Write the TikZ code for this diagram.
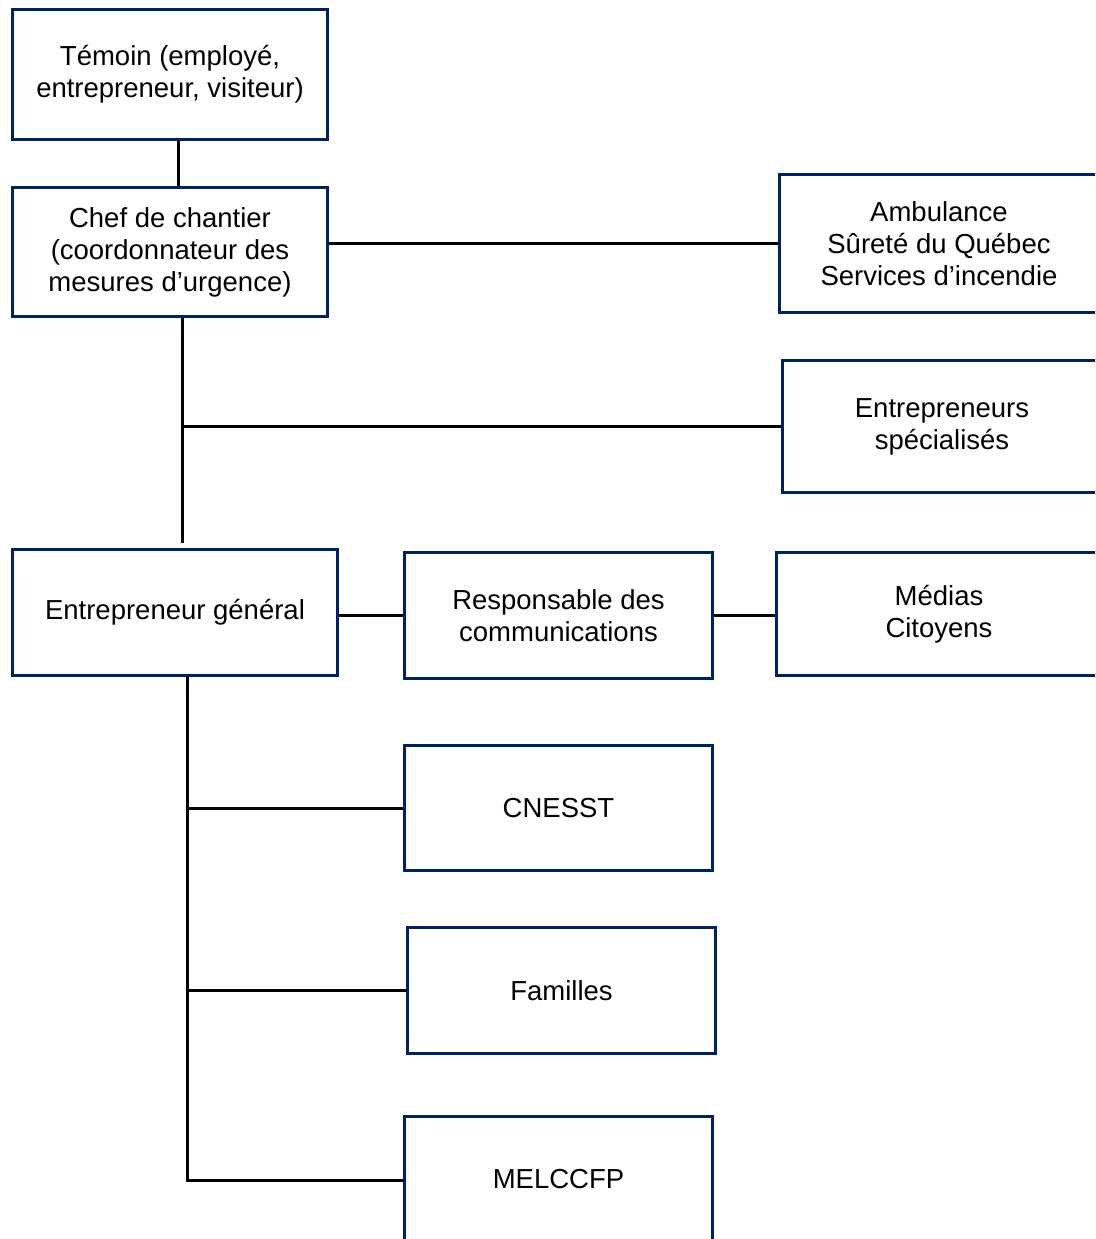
\documentclass[tikz,border=0pt]{standalone}
\usepackage{fontspec}
\setmainfont{Liberation Sans}
\definecolor{navy}{HTML}{002060}
\begin{document}
\begin{tikzpicture}[x=1pt,y=-1pt,
  box/.style={draw=navy, line width=3pt, fill=white, align=center,
    inner sep=0pt, font=\fontsize{27.5}{32}\selectfont},
  link/.style={draw=black, line width=3pt}]
\useasboundingbox (0,0) rectangle (1095,1239);
\clip (0,0) rectangle (1095,1239);

% boxes
\node[box, minimum width=315pt, minimum height=130pt] (temoin) at (170,74.5)
  {Témoin (employé,\\entrepreneur, visiteur)};
\node[box, minimum width=315pt, minimum height=129pt] (chef) at (170,252)
  {Chef de chantier\\(coordonnateur des\\mesures d’urgence)};
\node[box, minimum width=319pt, minimum height=138pt] (amb) at (939,243.5)
  {Ambulance\\Sûreté du Québec\\Services d’incendie};
\node[box, minimum width=319pt, minimum height=132pt] (es) at (942,426.5)
  {Entrepreneurs\\spécialisés};
\node[box, minimum width=325pt, minimum height=126pt] (eg) at (175,612.5)
  {Entrepreneur général};
\node[box, minimum width=308pt, minimum height=126pt] (resp) at (558.5,615.5)
  {Responsable des\\communications};
\node[box, minimum width=325pt, minimum height=123pt] (medias) at (939,614)
  {Médias\\Citoyens};
\node[box, minimum width=308pt, minimum height=125pt] (cnesst) at (558.5,808)
  {CNESST};
\node[box, minimum width=308pt, minimum height=126pt] (familles) at (561.5,990.5)
  {Familles};
\node[box, minimum width=308pt, minimum height=125pt] (melccfp) at (558.5,1179)
  {MELCCFP};

% trunk lines
\coordinate (trunkA) at (182,543);
\coordinate (trunkB) at (187,1180);

% connectors
\draw[link] ([xshift=8pt]temoin.south) -- ([xshift=8pt]chef.north);
\draw[link] (chef.east |- amb.west) -- (amb.west);
\draw[link] (chef.south -| trunkA) -- (trunkA);
\draw[link] (es.west -| trunkA) -- (es.west);
\draw[link] (eg.east |- resp.west) -- (resp.west);
\draw[link] (resp.east) -- (resp.east -| medias.west);
\draw[link] (eg.south -| trunkB) -- ([yshift=-1.5pt]trunkB);
\draw[link] (cnesst.west -| trunkB) -- (cnesst.west);
\draw[link] (familles.west -| trunkB) -- (familles.west);
\draw[link] (trunkB) -- (melccfp.west |- trunkB);
\end{tikzpicture}
\end{document}
